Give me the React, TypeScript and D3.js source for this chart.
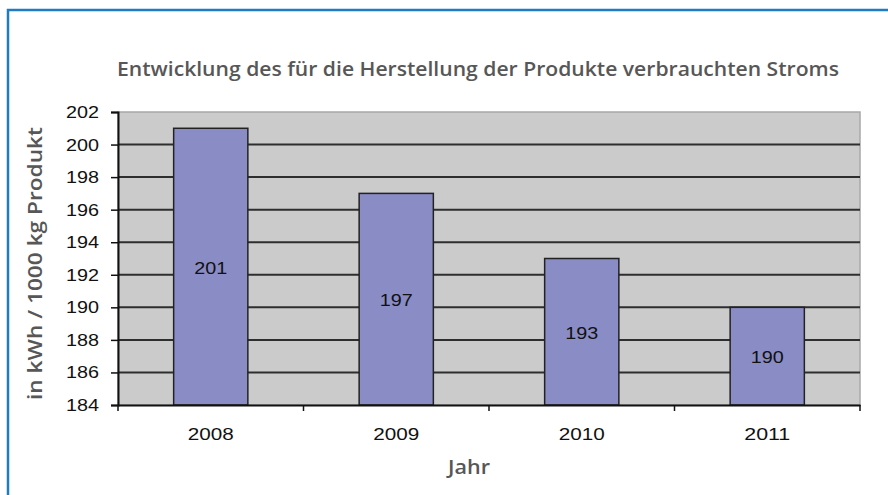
import React, { useEffect, useRef } from 'react';
import * as d3 from 'd3';

const YEARS = ['2008', '2009', '2010', '2011'];
const VALUES = [201, 197, 193, 190];
const Y_TICKS = [184, 186, 188, 190, 192, 194, 196, 198, 200, 202];

const TITLE = 'Entwicklung des für die Herstellung der Produkte verbrauchten Stroms';
const Y_LABEL = 'in kWh / 1000 kg Produkt';
const X_LABEL = 'Jahr';

const NUM_FONT = 'Liberation Sans, Arial, sans-serif';
const LABEL_FONT = 'Open Sans, Noto Sans, sans-serif';

const App = () => {
    const svgRef = useRef<SVGSVGElement>(null);
    const width = 888;
    const height = 495;
    const margin = { top: 112, right: 28, bottom: 92, left: 118 };

    useEffect(() => {
        const svg = d3.select(svgRef.current);
        svg.selectAll('*').remove();

        const x = d3.scaleBand()
            .domain(YEARS)
            .range([margin.left, width - margin.right])
            .paddingInner(0.6)
            .paddingOuter(0.3);

        const y = d3.scaleLinear()
            .domain([184, 202])
            .range([height - margin.bottom + 2, margin.top]);

        // outer frame
        svg.append('rect')
            .attr('x', 8)
            .attr('y', 10)
            .attr('width', width + 10)
            .attr('height', height + 10)
            .attr('fill', 'none')
            .attr('stroke', '#1d7cc4')
            .attr('stroke-width', 2.5);

        // plot background
        const x0 = margin.left;
        const x1 = width - margin.right;
        svg.append('rect')
            .attr('x', x0)
            .attr('y', y(202))
            .attr('width', x1 - x0)
            .attr('height', y(184) - y(202))
            .attr('fill', '#cbcbcb')
            .attr('stroke', '#a8a8a8')
            .attr('stroke-width', 1.5);

        // gridlines
        svg.selectAll('.grid')
            .data(Y_TICKS.filter(d => d > 184 && d < 202))
            .enter()
            .append('line')
            .attr('x1', x0)
            .attr('x2', x1)
            .attr('y1', d => y(d))
            .attr('y2', d => y(d))
            .attr('stroke', '#2e2e2e')
            .attr('stroke-width', 2);

        // bars
        svg.selectAll('.bar')
            .data(VALUES)
            .enter()
            .append('rect')
            .attr('x', (d, i) => x(YEARS[i]))
            .attr('y', d => y(d))
            .attr('width', x.bandwidth())
            .attr('height', d => y(184) - y(d))
            .attr('fill', '#8a8cc6')
            .attr('stroke', '#222')
            .attr('stroke-width', 1.5);

        svg.selectAll('.bar-label')
            .data(VALUES)
            .enter()
            .append('text')
            .attr('x', (d, i) => x(YEARS[i]) + x.bandwidth() / 2)
            .attr('y', d => (y(d) + y(184)) / 2 + 7)
            .attr('text-anchor', 'middle')
            .attr('textLength', 33)
            .attr('lengthAdjust', 'spacingAndGlyphs')
            .text(d => d)
            .style('font-family', NUM_FONT)
            .style('font-size', '17px')
            .style('fill', '#111');

        // y axis
        const yAxis = svg.append('g')
            .attr('transform', `translate(${x0},0)`)
            .call(d3.axisLeft(y).tickValues(Y_TICKS).tickSize(7).tickPadding(12));
        yAxis.select('.domain').attr('stroke', '#111').attr('stroke-width', 2);
        yAxis.selectAll('.tick line').attr('stroke', '#111').attr('stroke-width', 1.5);
        yAxis.selectAll('.tick text')
            .attr('textLength', 33)
            .attr('lengthAdjust', 'spacingAndGlyphs')
            .style('font-family', NUM_FONT)
            .style('font-size', '17px')
            .style('fill', '#111');

        // x axis
        const xAxis = svg.append('g')
            .attr('transform', `translate(0,${y(184)})`)
            .call(d3.axisBottom(x).tickSize(0).tickPadding(23));
        xAxis.select('.domain').attr('stroke', '#111').attr('stroke-width', 2);
        xAxis.selectAll('.tick text')
            .attr('textLength', 46)
            .attr('lengthAdjust', 'spacingAndGlyphs')
            .style('font-family', NUM_FONT)
            .style('font-size', '17px')
            .style('fill', '#111');

        // category separator ticks
        const bounds = d3.range(YEARS.length + 1).map(i => x0 + i * (x1 - x0) / YEARS.length);
        svg.selectAll('.xtick')
            .data(bounds)
            .enter()
            .append('line')
            .attr('x1', d => d)
            .attr('x2', d => d)
            .attr('y1', y(184))
            .attr('y2', y(184) + 6)
            .attr('stroke', '#111')
            .attr('stroke-width', 1.5);

        // titles
        svg.append('text')
            .attr('x', 117)
            .attr('y', 76)
            .attr('textLength', 722)
            .attr('lengthAdjust', 'spacingAndGlyphs')
            .text(TITLE)
            .style('font-family', LABEL_FONT)
            .style('font-weight', 600)
            .style('font-size', '19px')
            .style('fill', '#575757');

        svg.append('text')
            .attr('transform', `translate(42,${400}) rotate(-90)`)
            .attr('textLength', 273)
            .attr('lengthAdjust', 'spacingAndGlyphs')
            .text(Y_LABEL)
            .style('font-family', LABEL_FONT)
            .style('font-weight', 600)
            .style('font-size', '19px')
            .style('fill', '#575757');

        svg.append('text')
            .attr('x', 448)
            .attr('y', 474)
            .attr('textLength', 42)
            .attr('lengthAdjust', 'spacingAndGlyphs')
            .text(X_LABEL)
            .style('font-family', LABEL_FONT)
            .style('font-weight', 600)
            .style('font-size', '19px')
            .style('fill', '#575757');
    }, []);

    return (
        <svg
            ref={svgRef}
            width={width}
            height={height}
            style={{ position: 'absolute', left: 0, top: 0, background: '#fff' }}
        ></svg>
    );
};

export default App;
